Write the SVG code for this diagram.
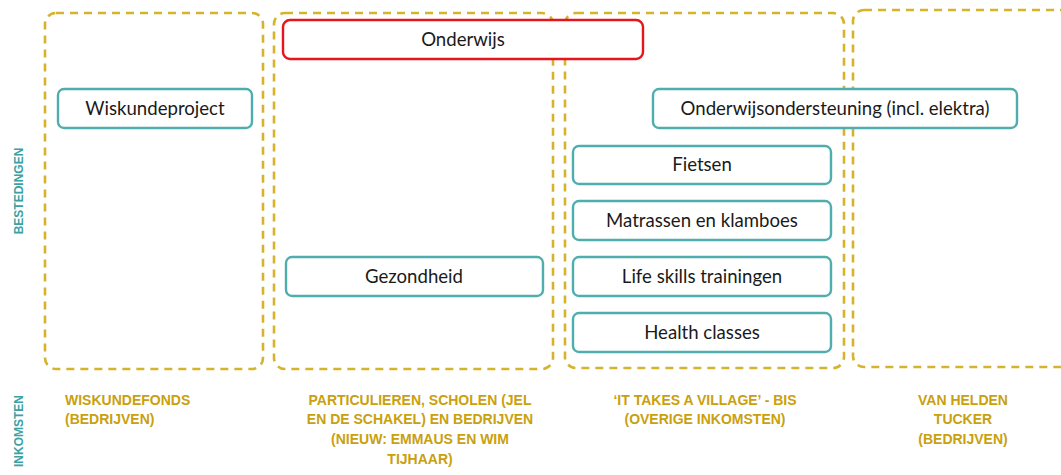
<svg xmlns="http://www.w3.org/2000/svg" width="1061" height="475" viewBox="0 0 1061 475">
<style>
.lane{fill:none;stroke:#d6b32c;stroke-width:2.6;stroke-dasharray:8 6}
.node rect{fill:#ffffff;stroke:#4fadad;stroke-width:2.4}
.node.red rect{stroke:#e8141c}
.node text{font-family:Lato,"Open Sans",sans-serif;font-size:18.6px;fill:#1a1a1a;text-anchor:middle}
.inc{font-family:"Liberation Sans",Arial,sans-serif;font-weight:bold;font-size:14px;fill:#c9a00e}
.side{font-family:"Liberation Sans",Arial,sans-serif;font-weight:bold;font-size:12px;fill:#3aa2a3;text-anchor:middle}
</style>
<rect width="1061" height="475" fill="#ffffff"/>
<g id="lanes">
<rect class="lane" x="45" y="13" width="218" height="356" rx="11"/>
<rect class="lane" x="274" y="13" width="279" height="356" rx="11"/>
<rect class="lane" x="565" y="13" width="279" height="355" rx="11"/>
<rect class="lane" x="853" y="10" width="230" height="357" rx="11"/>
</g>
<g id="connectors"></g>
<g id="n-wiskundeproject" class="node"><rect x="58" y="89" width="194" height="39" rx="6"/><text x="155" y="115">Wiskundeproject</text></g>
<g id="n-onderwijs" class="node red"><rect x="283" y="20" width="360" height="39" rx="7"/><text x="463" y="46">Onderwijs</text></g>
<g id="n-onderwijsondersteuning" class="node"><rect x="653" y="89" width="364" height="39" rx="6"/><text x="835" y="115">Onderwijsondersteuning (incl. elektra)</text></g>
<g id="n-fietsen" class="node"><rect x="573" y="146" width="258" height="38" rx="6"/><text x="702" y="171">Fietsen</text></g>
<g id="n-matrassen" class="node"><rect x="573" y="201" width="258" height="39" rx="6"/><text x="702" y="227">Matrassen en klamboes</text></g>
<g id="n-lifeskills" class="node"><rect x="573" y="257" width="258" height="39" rx="6"/><text x="702" y="283">Life skills trainingen</text></g>
<g id="n-health" class="node"><rect x="573" y="313" width="258" height="39" rx="6"/><text x="702" y="339">Health classes</text></g>
<g id="n-gezondheid" class="node"><rect x="286" y="257" width="257" height="39" rx="6"/><text x="414" y="283">Gezondheid</text></g>
<g id="labels">
<text class="side" transform="translate(23,191) rotate(-90)">BESTEDINGEN</text>
<text class="side" transform="translate(23,431) rotate(-90)">INKOMSTEN</text>
<text class="inc" x="65" y="405">WISKUNDEFONDS</text>
<text class="inc" x="65" y="424">(BEDRIJVEN)</text>
<g text-anchor="middle">
<text class="inc" x="420" y="405">PARTICULIEREN, SCHOLEN (JEL</text>
<text class="inc" x="420" y="424">EN DE SCHAKEL) EN BEDRIJVEN</text>
<text class="inc" x="420" y="444">(NIEUW: EMMAUS EN WIM</text>
<text class="inc" x="420" y="464">TIJHAAR)</text>
<text class="inc" x="705" y="405">‘IT TAKES A VILLAGE’ - BIS</text>
<text class="inc" x="705" y="424">(OVERIGE INKOMSTEN)</text>
<text class="inc" x="963" y="405">VAN HELDEN</text>
<text class="inc" x="963" y="424">TUCKER</text>
<text class="inc" x="963" y="444">(BEDRIJVEN)</text>
</g>
</g>
</svg>
